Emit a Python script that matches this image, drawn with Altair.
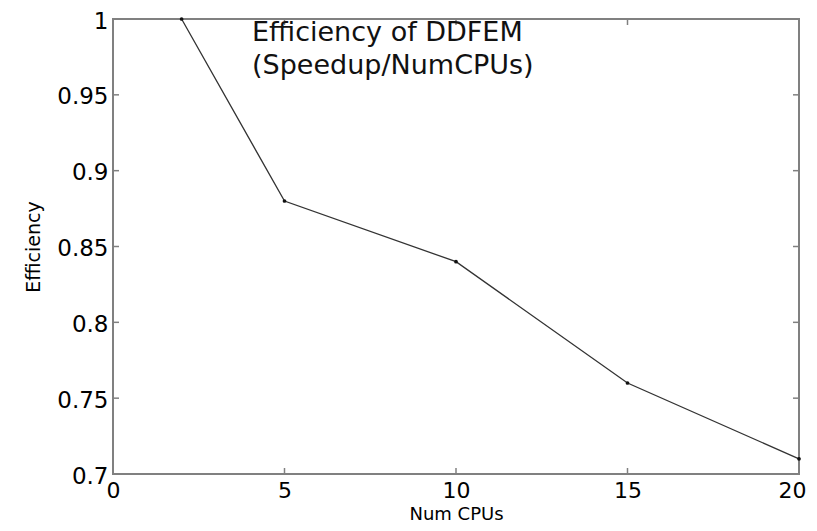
import altair as alt
import pandas as pd

cpus = [2, 5, 10, 15, 20]
efficiency = [1.0, 0.88, 0.84, 0.76, 0.71]
x_ticks = [0, 5, 10, 15, 20]
y_ticks = [0.7, 0.75, 0.8, 0.85, 0.9, 0.95, 1.0]
annotation = ["Efficiency of DDFEM", "(Speedup/NumCPUs)"]

W, H = 686, 455
FONT = "DejaVu Sans"

df = pd.DataFrame({"cpus": cpus, "eff": efficiency})
xt = pd.DataFrame({"v": x_ticks[1:-1]})
yt = pd.DataFrame({"v": y_ticks[1:-1]})

xscale = alt.Scale(domain=[0, 20], nice=False)
yscale = alt.Scale(domain=[0.7, 1.0], nice=False, zero=False)

x_axis = alt.Axis(values=x_ticks, domain=False, ticks=False, grid=False,
                  labelFont=FONT, labelFontSize=22, labelColor="black",
                  labelPadding=6, labelFlush=True, labelFlushOffset=7,
                  title="Num CPUs", titleFont=FONT, titleFontSize=18,
                  titleFontWeight="normal", titleColor="black",
                  titleY=40, titleBaseline="middle")
y_axis = alt.Axis(values=y_ticks, domain=False, ticks=False, grid=False,
                  labelFont=FONT, labelFontSize=23, labelColor="black",
                  labelPadding=5, labelFlush=False, labelOffset=2,
                  format="~g",
                  title="Efficiency", titleFont=FONT, titleFontSize=19,
                  titleFontWeight="normal", titleColor="black",
                  titleX=-80, titleY=H / 2, titleAlign="center",
                  titleBaseline="middle", titleAngle=-90)

line = alt.Chart(df).mark_line(color="#333333", strokeWidth=1.3).encode(
    x=alt.X("cpus:Q", scale=xscale, axis=x_axis),
    y=alt.Y("eff:Q", scale=yscale, axis=y_axis),
)
pts = alt.Chart(df).mark_point(filled=True, color="#111111", size=14, opacity=1).encode(
    x=alt.X("cpus:Q", scale=xscale),
    y=alt.Y("eff:Q", scale=yscale),
)

tick_color = "#808080"
xb = alt.Chart(xt).mark_rule(color=tick_color, strokeWidth=1.5).encode(
    x=alt.X("v:Q", scale=xscale), y=alt.value(H), y2=alt.value(H - 6))
xtop = alt.Chart(xt).mark_rule(color=tick_color, strokeWidth=1.5).encode(
    x=alt.X("v:Q", scale=xscale), y=alt.value(0), y2=alt.value(6))
yl = alt.Chart(yt).mark_rule(color=tick_color, strokeWidth=1.5).encode(
    y=alt.Y("v:Q", scale=yscale), x=alt.value(0), x2=alt.value(6))
yr = alt.Chart(yt).mark_rule(color=tick_color, strokeWidth=1.5).encode(
    y=alt.Y("v:Q", scale=yscale), x=alt.value(W - 6), x2=alt.value(W))

txt = alt.Chart(pd.DataFrame({"t": ["\n".join(annotation)]})).mark_text(
    align="left", baseline="top", font=FONT, fontSize=27, lineBreak="\n",
    lineHeight=33, color="#111111"
).encode(text="t:N", x=alt.value(139), y=alt.value(1))

chart = alt.layer(line, xb, xtop, yl, yr, pts, txt).properties(
    width=W, height=H,
    autosize=alt.AutoSizeParams(type="none"),
    padding={"left": 105, "top": 11, "right": 10, "bottom": 49},
    background="white",
).configure_view(stroke="#808080", strokeWidth=2)

chart.save("out.html", embed_options={"renderer": "svg", "actions": False})
